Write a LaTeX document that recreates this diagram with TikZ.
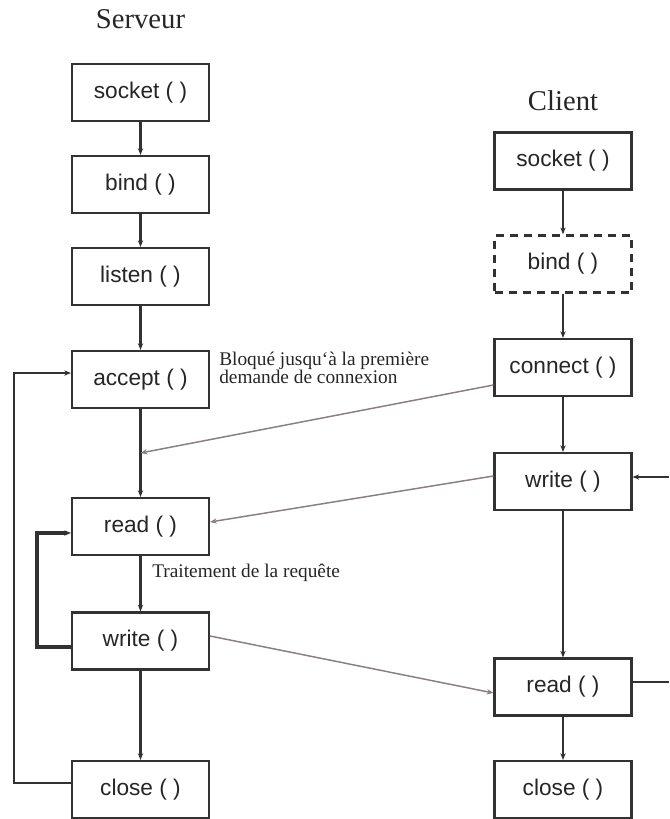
\documentclass[tikz,border=0pt]{standalone}
\usepackage{fontspec}
\setmainfont{Liberation Serif}
\setsansfont{Liberation Sans}
\usetikzlibrary{arrows.meta}
\definecolor{linegray}{RGB}{50,50,50}
\definecolor{msggray}{RGB}{138,126,126}

\begin{document}
\begin{tikzpicture}[
    x=0.75pt, y=-0.75pt,
    >={Stealth[length=5pt,width=4pt]},
    callbox/.style={rectangle, draw=linegray, line width=1.6pt, fill=white, minimum width=102.75pt, minimum height=42.75pt, inner sep=0pt, text=black!85, font=\sffamily\fontsize{17}{20}\selectfont},
    optbox/.style={callbox, dash pattern=on 6pt off 4.5pt, line width=2pt},
    title/.style={anchor=base, text=black!85, font=\fontsize{21.5}{24}\selectfont},
    note/.style={inner sep=0pt, align=left, text=black!85, font=\fontsize{14.5}{13.5}\selectfont},
    flow_edge/.style={->, line width=1.6pt, linegray},
    loop_edge/.style={->, line width=1.8pt, linegray},
    msg_edge/.style={->, line width=1.1pt, msggray},
]
    \useasboundingbox (0,0) rectangle (669,819);

    % ===== SERVEUR =====
    \node[title] (serveur) at (140.5,28) {Serveur};
    \node[callbox] (s_socket) at (140.5,92.5) {socket ( )};
    \node[callbox] (s_bind) at (140.5,184.5) {bind ( )};
    \node[callbox] (s_listen) at (140.5,276.5) {listen ( )};
    \node[callbox] (s_accept) at (140.5,379.5) {accept ( )};
    \node[callbox] (s_read) at (140.5,526.5) {read ( )};
    \node[callbox] (s_write) at (140.5,641) {write ( )};
    \node[callbox] (s_close) at (140.5,789.5) {close ( )};
    \coordinate (s_join) at (140.5,453);

    \node[note, anchor=north west] (n_bloque) at (219,351.5) {Bloqué jusqu`à la première\\demande de connexion};
    \node[note, anchor=base west] (n_traitement) at (152,577) {Traitement de la requête};

    % Edges for Serveur
    \draw[flow_edge] (s_socket) -- (s_bind);
    \draw[flow_edge] (s_bind) -- (s_listen);
    \draw[flow_edge] (s_listen) -- (s_accept);
    \draw[flow_edge] (s_accept) -- (s_read);
    \draw[flow_edge] (s_read) -- (s_write);
    \draw[flow_edge] (s_write) -- (s_close);
    \draw[loop_edge] (s_close.west |- 0,783) -- (14,783) -- (14,373) -- (s_accept.west |- 0,373);
    \draw[loop_edge, line width=2.4pt] (s_write.west |- 0,647) -- (37,647) -- (37,533) -- (s_read.west |- 0,533);

    % ===== CLIENT =====
    \node[title] (client) at (563,110) {Client};
    \node[callbox] (c_socket) at (563,161) {socket ( )};
    \node[optbox] (c_bind) at (563,264) {bind ( )};
    \node[callbox] (c_connect) at (563,367.5) {connect ( )};
    \node[callbox] (c_write) at (563,481.5) {write ( )};
    \node[callbox] (c_read) at (563,687) {read ( )};
    \node[callbox] (c_close) at (563,789.5) {close ( )};
    \coordinate (c_edge_w) at (669,477);
    \coordinate (c_edge_r) at (669,682);

    % Edges for Client
    \draw[flow_edge] (c_socket) -- (c_bind);
    \draw[flow_edge] (c_bind) -- (c_connect);
    \draw[flow_edge] (c_connect) -- (c_write);
    \draw[flow_edge] (c_write) -- (c_read);
    \draw[flow_edge] (c_read) -- (c_close);
    \draw[loop_edge] (c_edge_w) -- (c_write.east |- c_edge_w);
    \draw[loop_edge, -] (c_read.east |- c_edge_r) -- (c_edge_r);

    % ===== MESSAGES =====
    \draw[msg_edge] (c_connect.west |- 0,385) -- (s_join);
    \draw[msg_edge] (c_write.west |- 0,476) -- (s_read.east |- 0,522);
    \draw[msg_edge] (s_write.east |- 0,636) -- (c_read.west |- 0,693);

\end{tikzpicture}
\end{document}
